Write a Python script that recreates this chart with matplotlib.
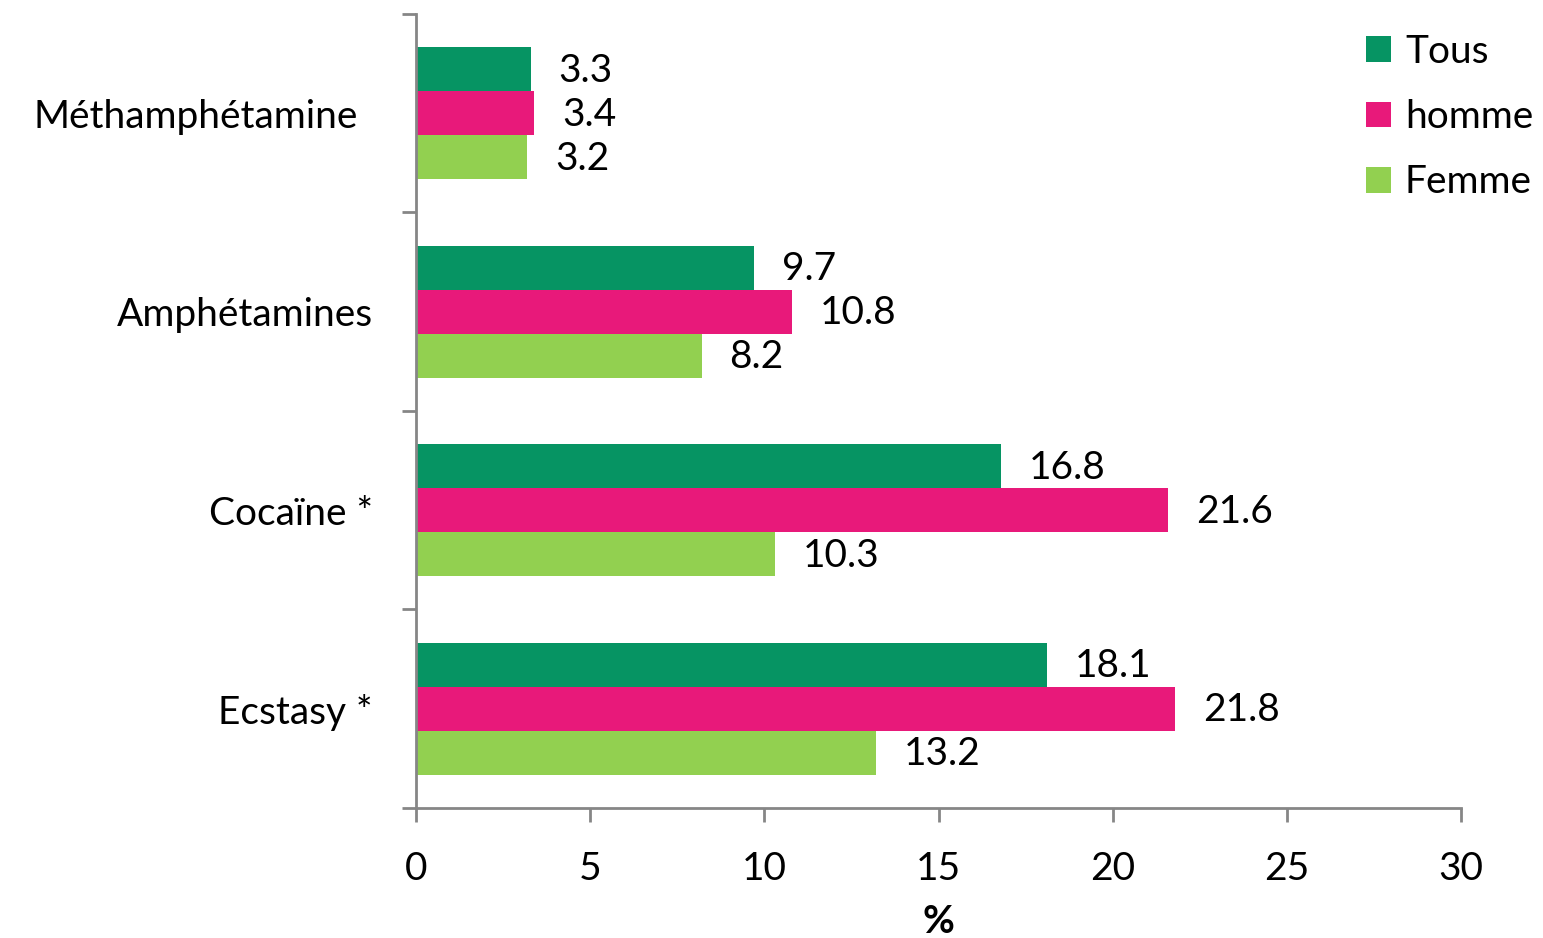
import matplotlib.pyplot as plt
import matplotlib.transforms as mtransforms
import numpy as np

categories = ["Méthamphétamine", "Amphétamines", "Cocaïne *", "Ecstasy *"]
series = ["Tous", "homme", "Femme"]
tous = [3.3, 9.7, 16.8, 18.1]
homme = [3.4, 10.8, 21.6, 21.8]
femme = [3.2, 8.2, 10.3, 13.2]
x_ticks = [0, 5, 10, 15, 20, 25, 30]

colors = ["#069463", "#E8197A", "#92D050"]
axis_grey = "#868686"

plt.rcParams["font.family"] = ["Lato", "DejaVu Sans"]
fs = 28

fig = plt.figure(figsize=(15.43, 9.38), dpi=100)
ax = fig.add_axes([0.2696, 0.1386, 0.9469 - 0.2696, 0.9851 - 0.1386])

y = np.arange(len(categories))
h = 0.222
for k, (vals, name, col) in enumerate(zip([tous, homme, femme], series, colors)):
    pos = y + (k - 1) * h
    bars = ax.barh(pos, vals, height=h, color=col, label=name)
    for b, v in zip(bars, vals):
        ax.annotate(f"{v}", (v, b.get_y() + b.get_height() / 2),
                    xytext=(20, -1), textcoords="offset points",
                    ha="left", va="center", fontsize=fs)

ax.set_xlim(0, 30)
ax.set_ylim(3.5, -0.5)
ax.set_xticks(x_ticks)
ax.set_xticklabels([str(t) for t in x_ticks], fontsize=fs)

# category boundaries as major ticks, names on minor ticks
ax.set_yticks(np.arange(-0.5, len(categories), 1.0))
ax.set_yticklabels([])
ax.set_yticks(y, minor=True)
ax.set_yticklabels(categories, minor=True, fontsize=fs)
ax.tick_params(axis="y", which="minor", length=0, pad=31)
ax.tick_params(axis="y", which="major", length=10, width=2, color=axis_grey)
ax.tick_params(axis="x", length=10, width=2, color=axis_grey, pad=21)

# the long first label sits a little further left
first = ax.get_yticklabels(minor=True)[0]
first.set_transform(first.get_transform()
                    + mtransforms.ScaledTranslation(-0.15, 0, fig.dpi_scale_trans))

for side in ["top", "right"]:
    ax.spines[side].set_visible(False)
for side in ["left", "bottom"]:
    ax.spines[side].set_color(axis_grey)
    ax.spines[side].set_linewidth(2)

ax.set_xlabel("%", fontsize=fs, fontweight="bold", labelpad=12)

ax.legend(loc="upper left", bbox_to_anchor=(1366 / 1543, 1 - 34 / 938),
          bbox_transform=fig.transFigure, frameon=False, fontsize=fs,
          handlelength=0.65, handleheight=0.65, handletextpad=0.35,
          labelspacing=0.75, borderpad=0, borderaxespad=0)

fig.savefig("out.png", dpi=100)
plt.close(fig)
